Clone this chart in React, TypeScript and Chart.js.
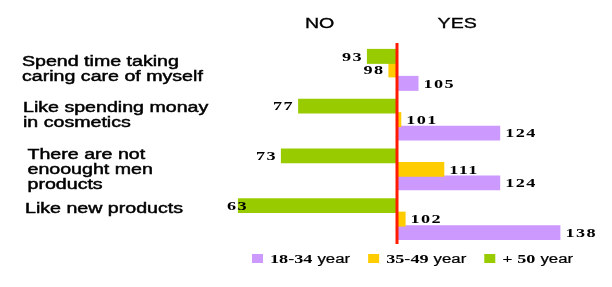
import { useEffect, useRef } from 'react';
import { Chart, registerables } from 'chart.js';

Chart.register(...registerables);

// ---- data ----
const categories: string[][] = [
  ['Spend time taking', 'caring care of myself'],
  ['Like spending monay', 'in cosmetics'],
  ['There are not', 'enoought men', 'products'],
  ['Like new products'],
];
const seriesNames = ['18-34 year', '35-49 year', '+ 50 year'];
const young = [105, 124, 124, 138];
const middle = [98, 101, 111, 102];
const senior = [93, 77, 73, 63];
const baseValue = 100;
const sideLabels = ['NO', 'YES'];
const sideLabelValues = [82, 114];
const axisMin = 60;
const axisMax = 140;

// ---- styles / layout ----
const seriesColors = ['#cc99ff', '#ffcc00', '#99cc00'];
const SX = 1.4; // horizontal text stretch seen in the reference
const labelLayout = [
  { x: 22, dy: -3.5 },
  { x: 23, dy: -8 },
  { x: 27.5, dy: -10 },
  { x: 25, dy: -6 },
];
const sansFont = '"Liberation Sans", Arial, sans-serif';
const serifBold = 'bold 13px "Liberation Serif", "Times New Roman", serif';

function drawText(
  ctx: CanvasRenderingContext2D,
  text: string,
  x: number,
  y: number,
  align: CanvasTextAlign,
  font: string,
  baseline: CanvasTextBaseline = 'alphabetic',
  heavy = 0,
  spacing = 0,
  color = '#000'
) {
  ctx.save();
  ctx.font = font;
  ctx.fillStyle = color;
  ctx.strokeStyle = color;
  ctx.textAlign = align;
  ctx.textBaseline = baseline;
  (ctx as any).letterSpacing = spacing + 'px';
  ctx.translate(x, y);
  ctx.scale(SX, 1);
  ctx.fillText(text, 0, 0);
  if (heavy > 0) {
    ctx.lineWidth = heavy;
    ctx.strokeText(text, 0, 0);
  }
  ctx.restore();
}

function textWidth(ctx: CanvasRenderingContext2D, text: string, font: string, spacing = 0) {
  ctx.save();
  ctx.font = font;
  (ctx as any).letterSpacing = spacing + 'px';
  const w = ctx.measureText(text).width * SX;
  ctx.restore();
  return w;
}

const decorPlugin = {
  id: 'decor',
  afterDatasetsDraw(chart: any) {
    const ctx: CanvasRenderingContext2D = chart.ctx;
    const area = chart.chartArea;
    const xs = chart.scales.x;
    // data labels
    chart.data.datasets.forEach((ds: any, di: number) => {
      const meta = chart.getDatasetMeta(di);
      meta.data.forEach((bar: any, i: number) => {
        const v = ds.rawValue[i];
        const left = Math.min(bar.x, bar.base);
        const right = Math.max(bar.x, bar.base);
        const txt = String(v);
        const w = textWidth(ctx, txt, serifBold, 1);
        if (v < baseValue) {
          let lx = left - 4 - w;
          if (lx < area.left + 2) lx = area.left + 2;
          drawText(ctx, txt, lx, bar.y + 1, 'left', serifBold, 'middle', 0, 1);
        } else {
          drawText(ctx, txt, right + 5, bar.y + 1, 'left', serifBold, 'middle', 0, 1);
        }
      });
    });
    // red centre line
    const cx = xs.getPixelForValue(baseValue);
    ctx.save();
    ctx.strokeStyle = '#ff1a00';
    ctx.lineWidth = 3;
    ctx.beginPath();
    ctx.moveTo(cx, area.top - 2);
    ctx.lineTo(cx, area.bottom);
    ctx.stroke();
    ctx.restore();
  },
  afterDraw(chart: any) {
    const ctx: CanvasRenderingContext2D = chart.ctx;
    const area = chart.chartArea;
    const xs = chart.scales.x;
    const ys = chart.scales.y;
    const catFont = '14px ' + sansFont;
    // category labels
    categories.forEach((lines, i) => {
      const cy = ys.getPixelForValue(i);
      const lay = labelLayout[i];
      lines.forEach((line, li) => {
        drawText(ctx, line, lay.x, cy + lay.dy + li * 15, 'left', catFont, 'alphabetic', 0.45);
      });
    });
    // NO / YES headers
    sideLabels.forEach((t, i) => {
      drawText(ctx, t, xs.getPixelForValue(sideLabelValues[i]), area.top - 17, 'center', catFont, 'alphabetic', 0.3);
    });
    // legend
    const legendY = area.bottom + 19;
    let lx = 252;
    const yearFont = '12px ' + sansFont;
    seriesNames.forEach((name, i) => {
      const cut = name.lastIndexOf(' ');
      const num = name.slice(0, cut);
      const unit = name.slice(cut + 1);
      ctx.save();
      ctx.fillStyle = seriesColors[i];
      ctx.fillRect(lx, legendY - 9, 11, 9);
      ctx.restore();
      lx += 11 + 7;
      drawText(ctx, num, lx, legendY, 'left', serifBold);
      lx += textWidth(ctx, num, serifBold) + 5;
      drawText(ctx, unit, lx, legendY, 'left', yearFont, 'alphabetic', 0.2);
      lx += textWidth(ctx, unit, yearFont) + 18;
    });
  },
};

export default function App() {
  const ref = useRef<HTMLCanvasElement | null>(null);
  useEffect(() => {
    document.body.style.margin = '0';
    if (!ref.current) return;
    const order = [2, 1, 0];
    const values = [young, middle, senior];
    const chart = new Chart(ref.current, {
      type: 'bar',
      data: {
        labels: categories.map((c) => c.join(' ')),
        datasets: order.map((si) => ({
          label: seriesNames[si],
          data: values[si].map((v) => [baseValue, v]),
          rawValue: values[si],
          backgroundColor: seriesColors[si],
          borderWidth: 0,
          categoryPercentage: 0.814,
          barPercentage: 1.11,
        })) as any,
      },
      options: {
        indexAxis: 'y',
        animation: false,
        responsive: false,
        devicePixelRatio: 1,
        layout: { padding: { left: 225, right: 43, top: 45, bottom: 43 } },
        scales: {
          x: { type: 'linear', min: axisMin, max: axisMax, display: false },
          y: { display: false, grid: { display: false } },
        },
        plugins: {
          legend: { display: false },
          tooltip: { enabled: false },
        },
      },
      plugins: [decorPlugin],
    });
    return () => chart.destroy();
  }, []);
  return (
    <div style={{ width: 612, height: 287, background: '#fff' }}>
      <canvas ref={ref} width={612} height={287} style={{ display: 'block' }} />
    </div>
  );
}
